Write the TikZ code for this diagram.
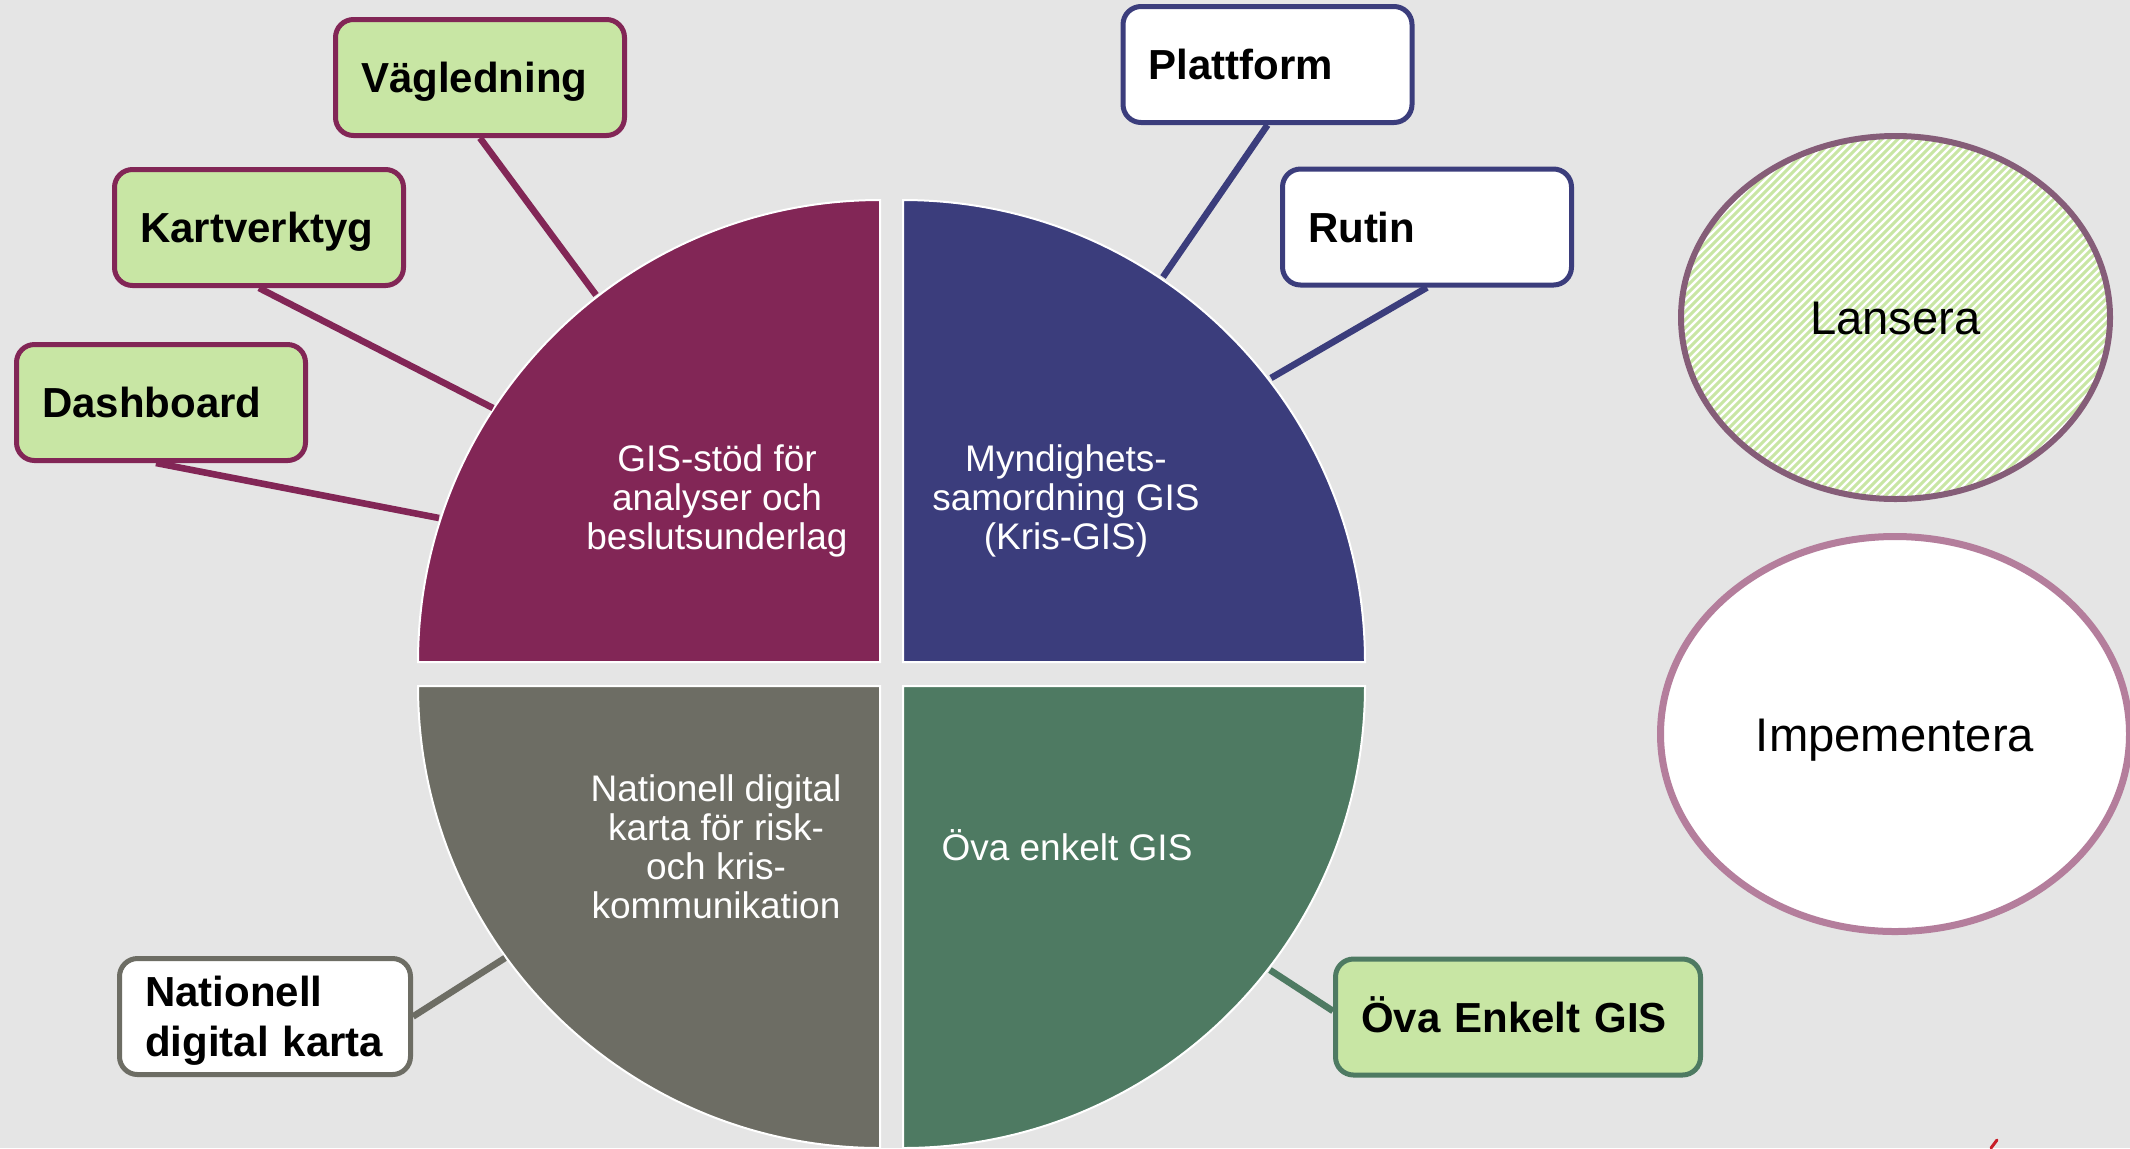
\documentclass[tikz,border=0pt]{standalone}
\usepackage{fontspec}
\setmainfont{Liberation Sans}
\usetikzlibrary{shapes.geometric}
\definecolor{bg}{RGB}{229,229,229}
\definecolor{cmaroon}{RGB}{130,38,86}
\definecolor{cnavy}{RGB}{59,61,124}
\definecolor{cgray}{RGB}{109,109,100}
\definecolor{cgreen}{RGB}{78,122,98}
\definecolor{lgreen}{RGB}{200,230,164}
\definecolor{lanborder}{RGB}{133,93,120}
\definecolor{impborder}{RGB}{180,126,156}
\definecolor{redmark}{RGB}{200,30,40}
\begin{document}
\begin{tikzpicture}[x=0.5pt,y=-0.5pt,
  quad/.style={draw=white, line width=1pt},
  qtext/.style={text=white, align=center, anchor=base, inner sep=0pt,
    font=\fontsize{18.5}{19.4}\selectfont},
  lbl/.style={rounded corners=9pt, line width=2.5pt, minimum height=58pt,
    text width=119pt, align=left, inner xsep=12.75pt, inner ysep=2pt,
    text height=15pt, text depth=0pt,
    font=\fontsize{21}{25}\selectfont\bfseries},
  spoke/.style={line width=3.3pt},
  oval/.style={ellipse, fill=white, inner sep=0pt, text height=17pt, text depth=0pt,
    font=\fontsize{23.6}{28}\selectfont},
  hatch/.style={draw=lgreen, line width=1.5pt}
]
\fill[bg] (0,0) rectangle (2130,1148);
\useasboundingbox (0,0) rectangle (2130,1148);

% quadrants
\path[quad, fill=cmaroon] (880,662) -- (418,662) arc[start angle=180, end angle=270, radius=462] -- cycle;
\path[quad, fill=cnavy] (903,662) -- (903,200) arc[start angle=270, end angle=360, radius=462] -- cycle;
\path[quad, fill=cgray] (880,686) -- (418,686) arc[start angle=180, end angle=90, radius=462] -- cycle;
\path[quad, fill=cgreen] (903,686) -- (1365,686) arc[start angle=0, end angle=90, radius=462] -- cycle;

% quadrant texts (anchored at the baseline of the last line)
\node[qtext] (tq1) at (717,549) {GIS-stöd för\\analyser och\\beslutsunderlag};
\node[qtext] (tq2) at (1066,549) {Myndighets-\\samordning GIS\\(Kris-GIS)};
\node[qtext] (tq3) at (716,918) {Nationell digital\\karta för risk-\\och kris-\\kommunikation};
\node[qtext] (tq4) at (1067,860) {Öva enkelt GIS};

% connector end points on the quadrants
\coordinate (eV) at (596,295);
\coordinate (eK) at (493,408);
\coordinate (eD) at (439,518);
\coordinate (eP) at (1163,277);
\coordinate (eR) at (1271,378);
\coordinate (eN) at (505,958);
\coordinate (eO) at (1270,970);

% box positions (invisible placeholders used by connectors)
\node[lbl] (vag) at (480,77.5) {\phantom{Vägledning}};
\node[lbl] (kart) at (259,227.5) {\phantom{Kartverktyg}};
\node[lbl] (dash) at (161,402.5) {\phantom{Dashboard}};
\node[lbl] (platt) at (1267.5,64.5) {\phantom{Plattform}};
\node[lbl] (rutin) at (1427,227) {\phantom{Rutin}};
\node[lbl, text width=120pt, text depth=25pt] (nat) at (265,1016.5) {\phantom{Nationell}};
\node[lbl, text width=157pt] (ova) at (1518,1017) {\phantom{Öva Enkelt GIS}};

% connectors
\draw[spoke, cmaroon] (vag.south) -- (eV);
\draw[spoke, cmaroon] (kart.south) -- (eK);
\draw[spoke, cmaroon] ([xshift=-2.5pt]dash.south) -- (eD);
\draw[spoke, cnavy] (platt.south) -- (eP);
\draw[spoke, cnavy] (rutin.south) -- (eR);
\draw[spoke, cgray] (nat.east) -- (eN);
\draw[spoke, cgreen] ([yshift=3pt]ova.west) -- (eO);

% boxes drawn on top of connectors
\node[lbl, draw=cmaroon, fill=lgreen] (vagB) at (vag) {Vägledning};
\node[lbl, draw=cmaroon, fill=lgreen] (kartB) at (kart) {Kartverktyg};
\node[lbl, draw=cmaroon, fill=lgreen] (dashB) at (dash) {Dashboard};
\node[lbl, draw=cnavy, fill=white] (plattB) at (platt) {Plattform};
\node[lbl, draw=cnavy, fill=white] (rutinB) at (rutin) {Rutin};
\node[lbl, draw=cgray, fill=white, text width=120pt, text depth=25pt] (natB) at (nat) {Nationell\\digital karta};
\node[lbl, draw=cgreen, fill=lgreen, text width=157pt] (ovaB) at (ova) {Öva Enkelt GIS};

% ellipses
\node[oval, draw=lanborder, line width=3pt, minimum width=214.5pt, minimum height=181.5pt,
  path picture={\foreach \k in {-52,...,52}{\draw[hatch] ([shift={(\k*8-400,400)}]path picture bounding box.center) -- ++(800,-800);}}]
  (lan) at (1895.5,317.5) {Lansera};
\node[oval, draw=impborder, line width=3.5pt, minimum width=234.5pt, minimum height=197.5pt] (imp) at (1895,734) {Impementera};

% small red mark at bottom edge
\draw[redmark, line width=1.5pt, line cap=round] (1991,1148) -- (1997,1140);
\end{tikzpicture}
\end{document}
